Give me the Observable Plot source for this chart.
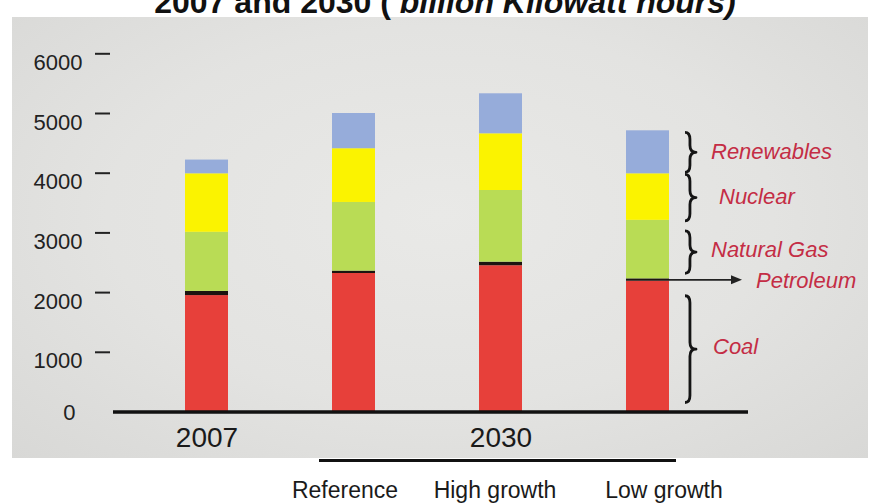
<!DOCTYPE html>
<html>
<head>
<meta charset="utf-8">
<script src="https://cdn.jsdelivr.net/npm/d3@7"></script>
<script src="https://cdn.jsdelivr.net/npm/@observablehq/plot@0.6"></script>
<style>
  html, body { margin: 0; padding: 0; background: #fff; }
  #wrap { position: relative; width: 876px; height: 503px; overflow: hidden; font-family: "Liberation Sans", Arial, sans-serif; }
  #panel { position: absolute; left: 12px; top: 17px; width: 856px; height: 441px;
    background: radial-gradient(ellipse at 50% 45%, #e9e9e7 0%, #e3e3e1 55%, #d8d8d6 100%); }
  #title { position: absolute; left: 0; width: 890px; top: -14px; text-align: center;
    font-size: 32px; line-height: 32px; font-weight: bold; color: #111; white-space: nowrap; }
  #title i { font-style: italic; }
  #chart { position: absolute; left: 0; top: 0; }
  #chart svg { background: transparent !important; }
</style>
</head>
<body>
<div id="wrap">
  <div id="panel"></div>
  <div id="title">2007 and 2030 ( <i>billion Kilowatt hours)</i></div>
  <div id="chart"></div>
</div>
<script>
// ---- data ----
const scenarios = ["2007", "Reference", "High growth", "Low growth"];
const sources = ["Coal", "Petroleum", "Natural Gas", "Nuclear", "Renewables"];
const coal = [1950, 2320, 2450, 2190];
const petroleum = [70, 40, 60, 40];
const naturalGas = [990, 1150, 1200, 980];
const nuclear = [980, 900, 950, 780];
const renewables = [230, 590, 670, 720];
const yTicks = [0, 1000, 2000, 3000, 4000, 5000, 6000];
const years = ["2007", "2030"];
const scenarioLabels = ["Reference", "High growth", "Low growth"];
const legendLabels = ["Renewables", "Nuclear", "Natural Gas", "Petroleum", "Coal"];

// ---- build table ----
const series = {"Coal": coal, "Petroleum": petroleum, "Natural Gas": naturalGas, "Nuclear": nuclear, "Renewables": renewables};
const table = [];
scenarios.forEach((s, i) => sources.forEach(src => table.push({scenario: s, source: src, value: series[src][i]})));

// stacked extents of the annotated bar
const annIdx = scenarios.indexOf("Low growth");
const extents = {};
let acc = 0;
sources.forEach(src => { const v = series[src][annIdx]; extents[src] = [acc, acc + v]; acc += v; });

const colors = ["#e7403a", "#1c1410", "#b9dc55", "#fbf300", "#96acda"];
const red = "#c42d45";
const yearAt = {"2007": "2007", "2030": "High growth"};
const scenShift = {"Reference": -9, "High growth": -6, "Low growth": 16};
const labelDx = {"Renewables": 63, "Nuclear": 71, "Natural Gas": 63, "Petroleum": 108, "Coal": 65};
const braceInset = {"Renewables": [2, 1], "Nuclear": [1, -1], "Natural Gas": [11, 5], "Coal": [15, 9]};

function annotations(a, b, c, d) {
  const scales = (a && a.x && a.y) ? a : b;
  const {x, y} = scales;
  const bw = x.bandwidth ? x.bandwidth() : 43;
  const xr = x("Low growth") + bw;
  const g = d3.create("svg:g");
  // braces
  ["Renewables", "Nuclear", "Natural Gas", "Coal"].forEach(src => {
    const [lo, hi] = extents[src];
    const ya = y(hi) + braceInset[src][0], yb = y(lo) - braceInset[src][1];
    const x0 = xr + 16, w = 11, xm = x0 + w * 0.45, ym = (ya + yb) / 2, r = Math.min(7, (yb - ya) / 4);
    g.append("path")
      .attr("d", `M${x0},${ya} Q${xm},${ya} ${xm},${ya + r} L${xm},${ym - r} Q${xm},${ym} ${x0 + w},${ym} Q${xm},${ym} ${xm},${ym + r} L${xm},${yb - r} Q${xm},${yb} ${x0},${yb}`)
      .attr("fill", "none").attr("stroke", "#151515").attr("stroke-width", 2.8).attr("stroke-linejoin", "round");
  });
  // petroleum arrow
  const ya = y(extents["Petroleum"][1]) + 1.5;
  const xe = xr + 73;
  g.append("line").attr("x1", xr).attr("x2", xe - 8).attr("y1", ya).attr("y2", ya)
    .attr("stroke", "#222").attr("stroke-width", 1.6);
  g.append("path").attr("d", `M${xe},${ya} L${xe - 11},${ya - 4.5} L${xe - 11},${ya + 4.5} Z`).attr("fill", "#222");
  return g.node();
}

const chart = Plot.plot({
  width: 876,
  height: 503,
  marginLeft: 113,
  marginRight: 128,
  marginTop: 0,
  marginBottom: 0,
  style: {background: "transparent", fontFamily: "'Liberation Sans', Arial, sans-serif"},
  x: {domain: scenarios, range: [132.5, 720.5], paddingInner: 0.7075, paddingOuter: 0.35375, axis: null},
  y: {domain: [0, 6000], range: [411.5, 53.3], axis: null},
  color: {domain: sources, range: colors},
  marks: [
    Plot.barY(table, {x: "scenario", y: "value", fill: "source"}),
    Plot.ruleY([0], {stroke: "#111", strokeWidth: 3.5}),
    Plot.ruleY(yTicks.filter(d => d > 0), {insetLeft: -18, insetRight: 638, stroke: "#222", strokeWidth: 2}),
    Plot.text(yTicks.filter(d => d > 0), {y: d => d, text: d => String(d), frameAnchor: "left", dx: -31, dy: 9, textAnchor: "end", fontSize: 22, fill: "#222"}),
    Plot.text([0], {y: d => d, text: d => String(d), frameAnchor: "left", dx: -38, dy: 1, textAnchor: "end", fontSize: 22, fill: "#222"}),
    Plot.text(years, {x: d => yearAt[d], y: () => 0, text: d => d, dy: 26, fontSize: 28, fill: "#1a1a1a"}),
    Plot.ruleY([0], {dy: 48.5, insetLeft: 206, insetRight: 72, stroke: "#111", strokeWidth: 3}),
    ...scenarioLabels.map(s => Plot.text([s], {x: d => d, y: () => 0, text: d => d, dy: 79, dx: scenShift[s], fontSize: 23, fill: "#1a1a1a"})),
    annotations,
    ...legendLabels.map(src => Plot.text([src], {
      x: () => "Low growth",
      y: d => d === "Petroleum" ? extents[d][1] : (extents[d][0] + extents[d][1]) / 2,
      text: d => d, dx: labelDx[src], dy: src === "Petroleum" ? 2 : 0,
      textAnchor: "start", fontSize: 22, fontStyle: "italic", fill: red
    }))
  ]
});
document.getElementById("chart").appendChild(chart);
</script>
</body>
</html>
